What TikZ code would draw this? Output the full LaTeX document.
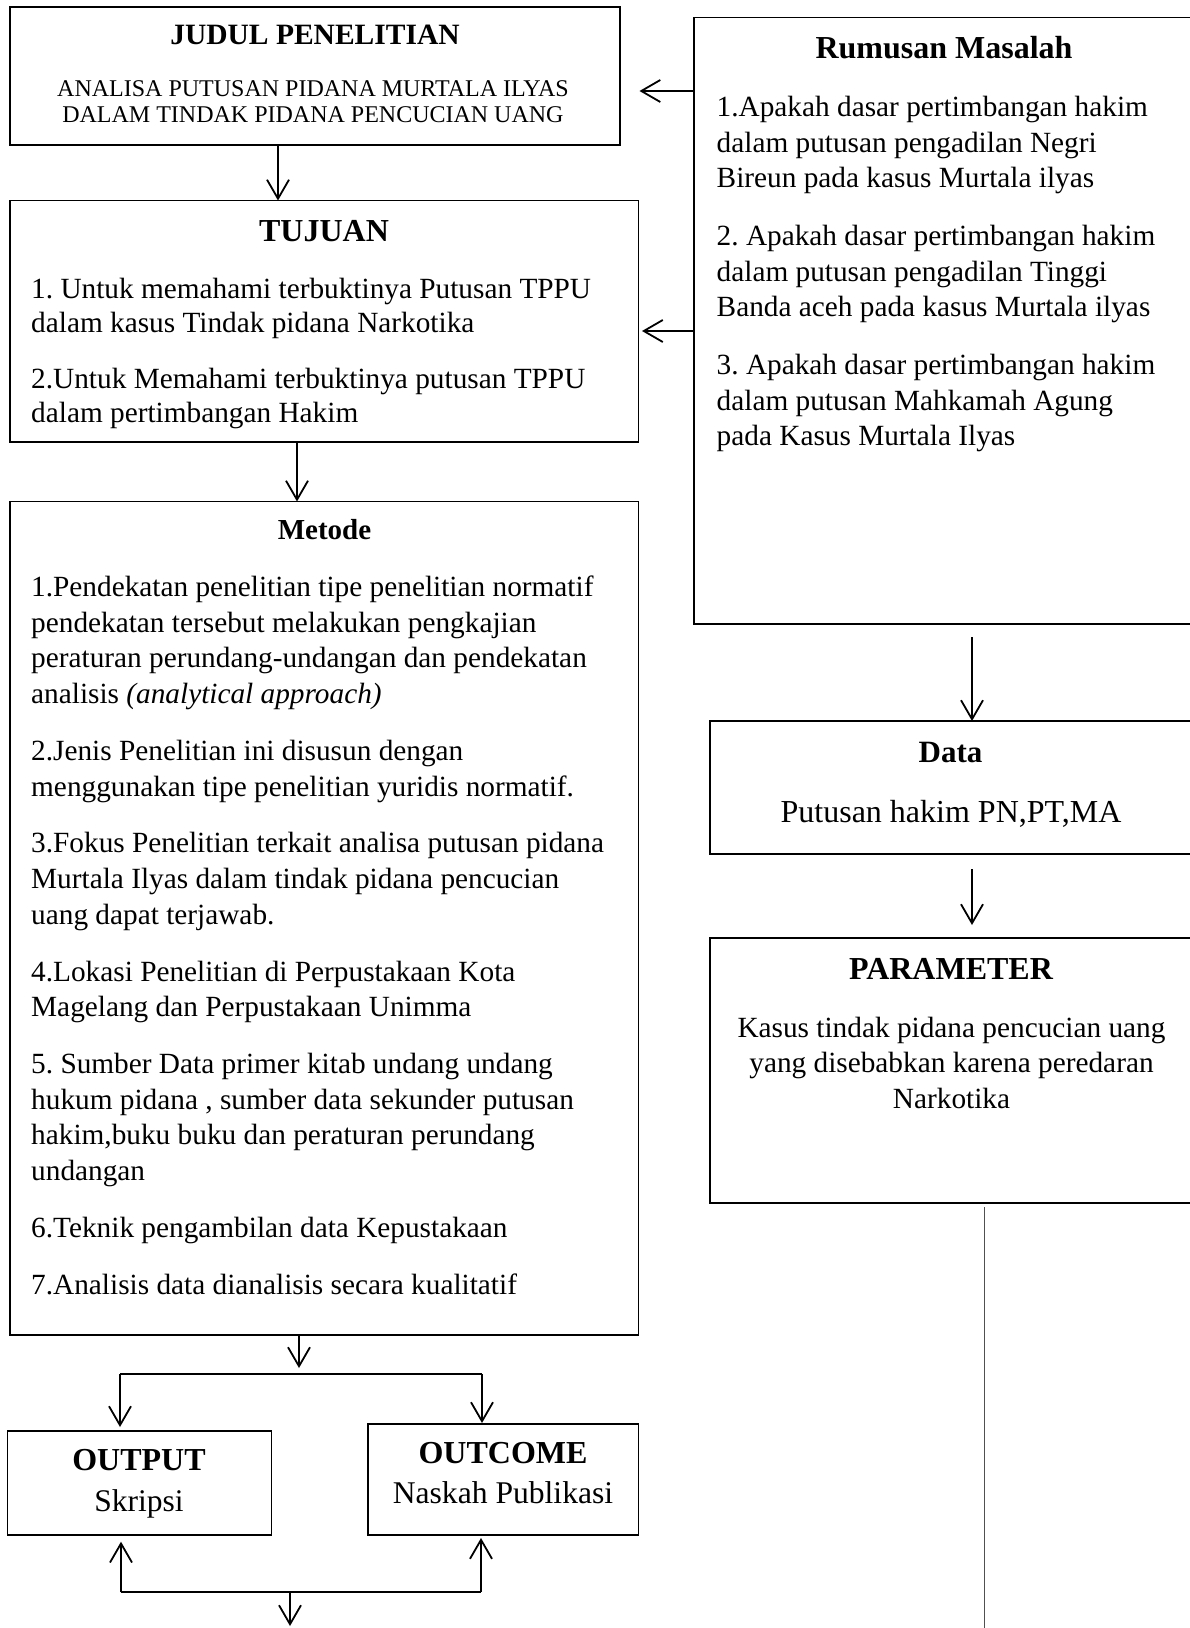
\documentclass[tikz,border=0pt]{standalone}
\usepackage{fontspec}
\setmainfont{Liberation Serif}
\usetikzlibrary{arrows.meta}
\newcommand{\firstrow}[1]{\rule{0pt}{#1}}
\frenchspacing
\begin{document}
\begin{tikzpicture}[x=1pt,y=-1pt,
  box/.style={draw, line width=1.7pt, inner sep=0pt, outer sep=0pt, anchor=north west},
  arr/.style={line width=1.8pt, -{Straight Barb[length=19pt,width=22pt,line width=1.8pt]}},
  conn/.style={line width=1.8pt},
  ttl/.style={anchor=base, inner sep=0pt, font=\fontsize{#1}{#1}\bfseries\selectfont},
  txt/.style={anchor=base, inner sep=0pt, font=\fontsize{#1}{#1}\selectfont},
  body/.style={anchor=north west, inner sep=0pt, align=left, font=\fontsize{29.3}{#1}\selectfont},
  cbody/.style={anchor=north, inner sep=0pt, align=center, font=\fontsize{29.3}{#1}\selectfont}
]
\useasboundingbox (0,0) rectangle (1190,1628);
\fill[white] (0,0) rectangle (1190,1628);
\clip (0,0) rectangle (1190,1628);

% boxes
\node[box, minimum width=610pt, minimum height=138pt] (judul) at (10,7) {};
\node[box, minimum width=628.5pt, minimum height=241.5pt] (tujuan) at (10,200.5) {};
\node[box, minimum width=628.5pt, minimum height=833.5pt] (metode) at (10,501.5) {};
\node[box, minimum width=502pt, minimum height=606.5pt] (rumusan) at (694,17.6) {};
\node[box, minimum width=482pt, minimum height=133pt] (data) at (710,721) {};
\node[box, minimum width=482pt, minimum height=265pt] (param) at (710,938) {};
\node[box, minimum width=263.8pt, minimum height=104pt] (output) at (7.6,1431) {};
\node[box, minimum width=270.4pt, minimum height=111pt] (outcome) at (368,1424) {};

% texts
\node[ttl=29.5] (judulT) at (315,44.7) {JUDUL PENELITIAN};
\node[anchor=north, inner sep=0pt, align=center, font=\fontsize{24}{26.5}\selectfont] (judulB) at (313,79)
  {\firstrow{17pt}ANALISA PUTUSAN PIDANA MURTALA ILYAS\\DALAM TINDAK PIDANA PENCUCIAN UANG};

\node[ttl=32] (tujuanT) at (324,241.5) {TUJUAN};
\node[body=34.4] (tujuanB) at (31,277.3)
  {\firstrow{21pt}1. Untuk memahami terbuktinya Putusan TPPU\\
   dalam kasus Tindak pidana Narkotika\\[21.2pt]
   2.Untuk Memahami terbuktinya putusan TPPU\\
   dalam pertimbangan Hakim};

\node[ttl=29] (metodeT) at (324.5,539.5) {Metode};
\node[body=35.6] (metodeB) at (31,575.5)
  {\firstrow{21pt}1.Pendekatan penelitian tipe penelitian normatif\\
   pendekatan tersebut melakukan pengkajian\\
   peraturan perundang-undangan dan pendekatan\\
   analisis \textit{(analytical approach)}\\[21.3pt]
   2.Jenis Penelitian ini disusun dengan\\
   menggunakan tipe penelitian yuridis normatif.\\[21.3pt]
   3.Fokus Penelitian terkait analisa putusan pidana\\
   Murtala Ilyas dalam tindak pidana pencucian\\
   uang dapat terjawab.\\[21.3pt]
   4.Lokasi Penelitian di Perpustakaan Kota\\
   Magelang dan Perpustakaan Unimma\\[21.3pt]
   5. Sumber Data primer kitab undang undang\\
   hukum pidana , sumber data sekunder putusan\\
   hakim,buku buku dan peraturan perundang\\
   undangan\\[21.3pt]
   6.Teknik pengambilan data Kepustakaan\\[21.3pt]
   7.Analisis data dianalisis secara kualitatif};

\node[ttl=32] (rumusanT) at (944,58.5) {Rumusan Masalah};
\node[body=35.5] (rumusanB) at (716.5,95.5)
  {\firstrow{21pt}1.Apakah dasar pertimbangan hakim\\
   dalam putusan pengadilan Negri\\
   Bireun pada kasus Murtala ilyas\\[22.5pt]
   2. Apakah dasar pertimbangan hakim\\
   dalam putusan pengadilan Tinggi\\
   Banda aceh pada kasus Murtala ilyas\\[22.5pt]
   3. Apakah dasar pertimbangan hakim\\
   dalam putusan Mahkamah Agung\\
   pada Kasus Murtala Ilyas};

\node[ttl=31] (dataT) at (950.5,762) {Data};
\node[txt=32] (dataB) at (951,822) {Putusan hakim PN,PT,MA};

\node[ttl=32] (paramT) at (951,979) {PARAMETER};
\node[cbody=35.5] (paramB) at (951.5,1016)
  {\firstrow{21pt}Kasus tindak pidana pencucian uang\\
   yang disebabkan karena peredaran\\
   Narkotika};

\node[ttl=32] (outputT) at (139,1470.7) {OUTPUT};
\node[txt=31.5] (outputB) at (139,1511.5) {Skripsi};
\node[ttl=32] (outcomeT) at (503,1463.3) {OUTCOME};
\node[txt=31.6] (outcomeB) at (503,1503.3) {Naskah Publikasi};

% connectors (top / right)
\draw[arr] ([xshift=268pt]judul.south west) -- ([xshift=268pt]tujuan.north west);
\draw[arr] ([xshift=287pt]tujuan.south west) -- ([xshift=287pt]metode.north west);
\draw[arr] ([yshift=-73.4pt]rumusan.north west) -- ([xshift=19.5pt,yshift=-84pt]judul.north east);
\draw[arr] ([yshift=-313.4pt]rumusan.north west) -- ([xshift=3.5pt,yshift=-130.5pt]tujuan.north east);
\draw[arr] ([xshift=278pt,yshift=-13pt]rumusan.south west) -- ([xshift=262pt]data.north west);
\draw[arr] ([xshift=262pt,yshift=-15pt]data.south west) -- ([xshift=262pt,yshift=13pt]param.north west);
\coordinate (lineend) at (984.5,1630);
\draw[line width=1.2pt, draw={rgb,255:red,80;green,80;blue,80}] ([xshift=274.5pt,yshift=-4pt]param.south west) -- (lineend);

% bottom connectors
\coordinate (split) at (299,1368);
\coordinate (hl) at (120,1374);
\coordinate (hr) at (482,1374);
\coordinate (bl) at (121,1592.3);
\coordinate (br) at (481,1592.3);
\coordinate (bm) at (290,1592.3);
\coordinate (bend) at (290,1626);
\draw[arr] ([xshift=289pt]metode.south west) -- (split);
\draw[conn] (hl) -- (hr);
\draw[arr] (hl) -- ([xshift=112.4pt,yshift=4pt]output.north west);
\draw[arr] (hr) -- ([xshift=114pt,yshift=1pt]outcome.north west);
\draw[conn] (bl) -- (br);
\draw[arr] (bl) -- ([xshift=113.4pt,yshift=-6.7pt]output.south west);
\draw[arr] (br) -- ([xshift=113pt,yshift=-3pt]outcome.south west);
\draw[arr] (bm) -- (bend);
\end{tikzpicture}
\end{document}
